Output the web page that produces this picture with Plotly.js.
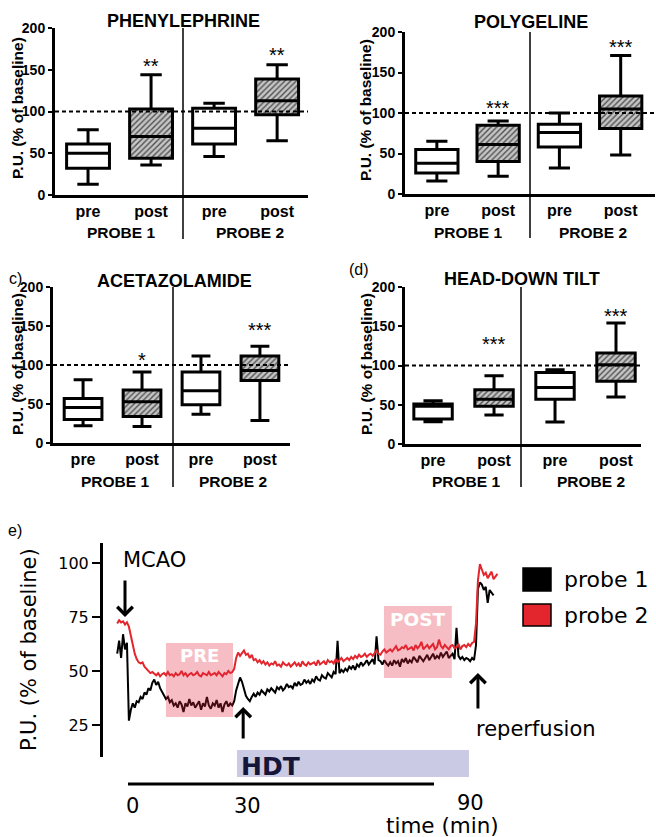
<!DOCTYPE html>
<html><head><meta charset="utf-8">
<script src="https://cdn.plot.ly/plotly-3.0.1.min.js"></script>
<style>html,body{margin:0;padding:0;background:#fff}#chart{width:656px;height:837px}</style>
</head><body><div id="chart"></div>
<script>
// ================= DATA =================
// box panels a-d : order per panel = [pre PROBE 1, post PROBE 1, pre PROBE 2, post PROBE 2]
const groupLabels = ['pre', 'post', 'pre', 'post'];
const probeLabels = ['PROBE 1', 'PROBE 2'];
const panelTitles = ['PHENYLEPHRINE', 'POLYGELINE', 'ACETAZOLAMIDE', 'HEAD-DOWN TILT'];
const panelTags = ['', '', 'c)', '(d)'];
const yTitleBox = 'P.U. (% of baseline)';

const phenLow  = [13, 36, 46, 65];
const phenQ1   = [32, 44, 61, 96];
const phenMed  = [50, 70, 80, 113];
const phenQ3   = [61, 103, 104, 139];
const phenHigh = [78, 144, 110, 156];
const phenStars = ['', '**', '', '**'];

const polyLow  = [16, 22, 32, 48];
const polyQ1   = [26, 40, 58, 81];
const polyMed  = [38, 61, 76, 105];
const polyQ3   = [55, 85, 86, 121];
const polyHigh = [65, 90, 100, 171];
const polyStars = ['', '***', '', '***'];

const acetLow  = [22, 21, 37, 29];
const acetQ1   = [30, 34, 49, 80];
const acetMed  = [45.5, 53, 67, 93];
const acetQ3   = [57, 68, 91, 111.5];
const acetHigh = [81, 91, 111.5, 124];
const acetStars = ['', '*', '', '***'];

const hdtLow  = [28.5, 37, 28, 60];
const hdtQ1   = [32, 48, 57, 80];
const hdtMed  = [48, 57, 72, 101];
const hdtQ3   = [51, 69, 91, 116];
const hdtHigh = [55, 87, 94.5, 154];
const hdtStars = ['', '***', '', '***'];

// panel e : laser-Doppler traces, sampled every 0.5 min starting at -2 min
const traceStart = -2.0;
const traceStep = 0.5;
const seriesNames = ['probe 1', 'probe 2'];
const probe1Values = [
  58, 64, 56, 67, 60, 63, 27, 32, 35, 33,
  36, 35.5, 38, 37, 40, 39, 42, 41, 44.5, 46,
  43.5, 45, 42, 40.5, 39, 37, 38, 35.5, 36.5, 34,
  35, 33, 36, 34.5, 31, 35, 33.5, 37, 34, 35.5,
  33, 34.5, 36, 32, 35, 33.5, 38, 34, 32.5, 35,
  34, 36.5, 33, 35, 31, 34.5, 36, 33.5, 35, 34,
  36, 41, 44, 47, 45, 42, 38.5, 37, 36, 38,
  39.5, 38, 40, 39, 41, 40, 39, 41.5, 40.5, 42,
  41, 40, 42.5, 41.5, 43, 41, 42, 44, 42.5, 43,
  42, 44.5, 43, 45, 43.5, 44, 46, 44.5, 45.5, 44,
  46, 45, 47.5, 46, 45.5, 48, 47, 46.5, 49, 48,
  47, 49.5, 48.5, 64, 49, 50.5, 49.5, 51, 50, 52,
  51, 52.5, 50.5, 53, 52, 54, 52.5, 53.5, 55, 53,
  54, 55.5, 53, 66, 55, 54.5, 53, 55, 53.5, 52.5,
  54, 52.5, 55, 53.5, 54.5, 52, 55.5, 54, 56, 53.5,
  55, 54, 56.5, 55, 54, 57, 55.5, 54.5, 56, 57.5,
  55, 56.5, 58, 55.5, 57, 56, 58.5, 56.5, 57.5, 59,
  56, 57, 58, 55.5, 70, 57, 55.5, 56.5, 55, 56,
  55.5, 54.5, 56, 55, 62, 88, 91, 90, 87.5, 89,
  81.5, 87.5, 86, 85
];
const probe2Values = [
  72, 73.5, 72.5, 73, 71.5, 72.5, 70.5, 66, 61, 58,
  55.5, 54, 53.5, 54, 52, 51, 50.5, 49, 49.5, 48.5,
  48, 49, 47.5, 48.5, 49, 48, 49.5, 48, 48.5, 47.5,
  49, 48, 48.5, 50, 48, 49, 47.5, 48.5, 49, 48,
  48.5, 49.5, 48, 47.5, 49, 48.5, 48, 49.5, 48, 48.5,
  49, 48, 49.5, 48.5, 47.5, 49, 48.5, 50, 49, 49.5,
  51, 56, 58.5, 57, 58, 59.5, 57.5, 58, 56, 57.5,
  55, 55.5, 54, 55, 53.5, 54.5, 53, 54, 52.5, 53.5,
  53, 54.5, 52.5, 53, 52, 54, 53, 52.5, 53.5, 52,
  53, 54, 52.5, 53.5, 52, 54.5, 53, 52.5, 54, 53,
  53.5, 54, 52.5, 55, 53, 54, 54.5, 53, 55, 54,
  54.5, 53.5, 55.5, 54, 55, 56, 54.5, 55.5, 56, 55,
  56.5, 55.5, 57, 56, 57.5, 56.5, 57, 58, 56.5, 57.5,
  58, 57, 58.5, 59.5, 58, 57.5, 59, 60, 58.5, 59.5,
  60, 59, 60.5, 61.5, 59.5, 60, 61, 60.5, 62, 60,
  60.5, 61, 59.5, 62, 60.5, 61.5, 63.5, 60, 61, 62,
  60.5, 61.5, 62.5, 60, 61, 64.5, 61.5, 60.5, 62, 61,
  60, 61.5, 62, 60.5, 61, 62.5, 60, 61.5, 62, 61,
  62.5, 61.5, 63, 63.5, 72, 92, 99.5, 97, 94.5, 95.5,
  93, 94.5, 96, 92.5, 94, 95
];
// event times (min)
const preWindow = [10.5, 27.7];
const postWindow = [66.4, 83.8];
const hdtWindow = [28.7, 88.2];
const mcaoTime = 0;
const hdtTime = 30.3;
const reperfTime = 90.5;
const timeTicks = ['0', '30', '90'];
const timeTickPos = [2, 31.5, 88.5];
const eYTicks = [25, 50, 75, 100];

// ================= LAYOUT HELPERS =================
const W = 656, H = 837;
const px = v => v / W, py = v => 1 - v / H;
const ARIAL = 'Liberation Sans, Arial, sans-serif';
const DEJA = 'DejaVu Sans, sans-serif';

const panels = [
  {low: phenLow, q1: phenQ1, med: phenMed, q3: phenQ3, high: phenHigh, stars: phenStars,
   starY: [0, 154.5, 0, 168], xdom: [55, 308], ydom: [28, 195], range: [0.476, 4.49], bw: 0.68,
   title: [183, 21], ytitle: [17, 108], probe: [[121, 233], [250, 233]], divider: [183, 28, 239], tag: null},
  {low: polyLow, q1: polyQ1, med: polyMed, q3: polyQ3, high: polyHigh, stars: polyStars,
   starY: [0, 106, 0, 181], xdom: [405, 655], ydom: [32, 194], range: [0.48, 4.56], bw: 0.69,
   title: [531, 22.5], ytitle: [366, 110], probe: [[467.5, 232], [593, 232]], divider: [530, 32, 238], tag: null},
  {low: acetLow, q1: acetQ1, med: acetMed, q3: acetQ3, high: acetHigh, stars: acetStars,
   starY: [0, 106, 0, 145], xdom: [53, 290], ydom: [287, 443], range: [0.49, 4.51], bw: 0.64,
   title: [174, 281], ytitle: [17, 364], probe: [[115, 481], [233, 481]], divider: [173, 287, 487], tag: [15, 278]},
  {low: hdtLow, q1: hdtQ1, med: hdtMed, q3: hdtQ3, high: hdtHigh, stars: hdtStars,
   starY: [0, 127, 0, 163], xdom: [405, 641], ydom: [287, 444], range: [0.54, 4.41], bw: 0.63,
   title: [522, 279], ytitle: [366, 364], probe: [[466, 481], [591, 481]], divider: [521, 287, 487], tag: [359, 269]}
];

const data = [];
const layout = {
  width: W, height: H, margin: {l: 0, r: 0, t: 0, b: 0},
  paper_bgcolor: '#fff', plot_bgcolor: 'rgba(0,0,0,0)',
  showlegend: false, hovermode: false, boxmode: 'overlay', barmode: 'overlay',
  annotations: [], shapes: []
};
const A = layout.annotations, S = layout.shapes;
const positions = [1, 2, 3, 4];

panels.forEach((p, k) => {
  const s = k === 0 ? '' : String(k + 1);
  const xa = 'x' + s, ya = 'y' + s;
  const post = [1, 3], pre = [0, 2];
  // hatched fill for post boxes
  data.push({
    type: 'bar', xaxis: xa, yaxis: ya,
    x: post.map(i => positions[i]),
    base: post.map(i => p.q1[i]),
    y: post.map(i => p.q3[i] - p.q1[i]),
    width: p.bw,
    marker: {color: '#bfbfbf', line: {width: 0},
      pattern: {shape: '/', fgcolor: '#505050', bgcolor: '#c6c6c6', size: 4, solidity: 0.35}}
  });
  [[pre, '#ffffff'], [post, 'rgba(0,0,0,0)']].forEach(([idx, fill]) => {
    data.push({
      type: 'box', xaxis: xa, yaxis: ya,
      x: idx.map(i => positions[i]),
      q1: idx.map(i => p.q1[i]), median: idx.map(i => p.med[i]), q3: idx.map(i => p.q3[i]),
      lowerfence: idx.map(i => p.low[i]), upperfence: idx.map(i => p.high[i]),
      boxpoints: false, width: p.bw, whiskerwidth: 0.5,
      fillcolor: fill, line: {color: '#000', width: 3}
    });
  });
  layout['xaxis' + s] = {
    domain: [px(p.xdom[0]), px(p.xdom[1])], range: p.range, anchor: ya,
    tickvals: positions, ticktext: groupLabels, ticks: '',
    showline: true, linewidth: 3, linecolor: '#000', showgrid: false, zeroline: false,
    tickfont: {family: ARIAL, size: 16, weight: 'bold', color: '#000'}, fixedrange: true
  };
  layout['yaxis' + s] = {
    domain: [py(p.ydom[1]), py(p.ydom[0])], range: [0, 200], anchor: xa,
    tickvals: [0, 50, 100, 150, 200], ticks: 'outside', ticklen: 4, tickwidth: 2, tickcolor: '#000',
    showline: true, linewidth: 3, linecolor: '#000', showgrid: false, zeroline: false,
    tickfont: {family: ARIAL, size: 14, weight: 'bold', color: '#000'}, fixedrange: true
  };
  // baseline 100 %
  S.push({type: 'line', xref: xa + ' domain', yref: ya, x0: 0, x1: 1, y0: 100, y1: 100,
    line: {color: '#000', width: 2, dash: '4px,3px'}});
  // divider between probes
  S.push({type: 'line', xref: 'paper', yref: 'paper', x0: px(p.divider[0]), x1: px(p.divider[0]),
    y0: py(p.divider[1]), y1: py(p.divider[2]), line: {color: '#000', width: 1.5}});
  A.push({xref: 'paper', yref: 'paper', x: px(p.title[0]), y: py(p.title[1]), text: panelTitles[k],
    showarrow: false, xanchor: 'center', yanchor: 'middle',
    font: {family: ARIAL, size: 18, weight: 'bold', color: '#000'}});
  A.push({xref: 'paper', yref: 'paper', x: px(p.ytitle[0]), y: py(p.ytitle[1]), text: yTitleBox,
    textangle: -90, showarrow: false, xanchor: 'center', yanchor: 'middle',
    font: {family: ARIAL, size: 15.5, weight: 'bold', color: '#000'}});
  probeLabels.forEach((lab, j) => A.push({xref: 'paper', yref: 'paper', x: px(p.probe[j][0]), y: py(p.probe[j][1]),
    text: lab, showarrow: false, xanchor: 'center', yanchor: 'middle',
    font: {family: ARIAL, size: 15.5, weight: 'bold', color: '#000'}}));
  if (p.tag) A.push({xref: 'paper', yref: 'paper', x: px(p.tag[0]), y: py(p.tag[1]), text: panelTags[k],
    showarrow: false, xanchor: 'center', yanchor: 'middle', font: {family: ARIAL, size: 16, color: '#000'}});
  p.stars.forEach((st, i) => {
    if (!st) return;
    A.push({xref: xa, yref: ya, x: positions[i], y: p.starY[i], text: st, showarrow: false,
      xanchor: 'center', yanchor: 'middle', font: {family: ARIAL, size: 20, color: '#000'}});
  });
});

// ================= PANEL e =================
const X0 = 125, PXPERMIN = 3.9;  // 0 min at 125 px
const tOf = x => (x - X0) / PXPERMIN;
const V0 = 100, Y100 = 563, PXPERUNIT = 2.159;
const vOf = y => V0 - (y - Y100) / PXPERUNIT;

data.push({type: 'scatter', mode: 'lines', name: seriesNames[0], xaxis: 'x5', yaxis: 'y5',
  x0: traceStart, dx: traceStep, y: probe1Values, line: {color: '#000', width: 2}});
data.push({type: 'scatter', mode: 'lines', name: seriesNames[1], xaxis: 'x5', yaxis: 'y5',
  x0: traceStart, dx: traceStep, y: probe2Values, line: {color: '#e3262d', width: 2}});

layout.xaxis5 = {domain: [px(103), 1], range: [tOf(103), tOf(656)], anchor: 'y5', visible: false, fixedrange: true};
layout.yaxis5 = {
  domain: [py(757), py(543)], range: [vOf(757), vOf(543)], anchor: 'x5',
  tickvals: eYTicks, ticks: 'outside', ticklen: 8, tickwidth: 1.5, tickcolor: '#000',
  showline: true, linewidth: 3, linecolor: '#000', showgrid: false, zeroline: false,
  tickfont: {family: DEJA, size: 16, color: '#000'}, fixedrange: true
};

// PRE / POST windows (drawn over the traces)
const winFill = 'rgba(225,40,60,0.3)';
S.push({type: 'rect', xref: 'x5', yref: 'y5', x0: preWindow[0], x1: preWindow[1], y0: vOf(717), y1: vOf(643),
  fillcolor: winFill, line: {width: 0}, layer: 'above'});
S.push({type: 'rect', xref: 'x5', yref: 'y5', x0: postWindow[0], x1: postWindow[1], y0: vOf(678), y1: vOf(606),
  fillcolor: winFill, line: {width: 0}, layer: 'above'});
A.push({xref: 'x5', yref: 'paper', x: (preWindow[0] + preWindow[1]) / 2, y: py(655), text: 'PRE', showarrow: false,
  xanchor: 'center', yanchor: 'middle', font: {family: DEJA, size: 18, weight: 'bold', color: '#fff'}});
A.push({xref: 'x5', yref: 'paper', x: (postWindow[0] + postWindow[1]) / 2, y: py(619), text: 'POST', showarrow: false,
  xanchor: 'center', yanchor: 'middle', font: {family: DEJA, size: 18.5, weight: 'bold', color: '#fff'}});
// HDT bar
S.push({type: 'rect', xref: 'x5', yref: 'paper', x0: hdtWindow[0], x1: hdtWindow[1], y0: py(777), y1: py(750),
  fillcolor: '#cbcae4', line: {width: 0}, layer: 'below'});
A.push({xref: 'paper', yref: 'paper', x: px(239), y: py(766), xanchor: 'left', yanchor: 'middle', text: 'HDT',
  showarrow: false, font: {family: DEJA, size: 25, weight: 'bold', color: '#15153a'}});
// time bar
S.push({type: 'line', xref: 'x5', yref: 'paper', x0: tOf(128), x1: tOf(434), y0: py(784), y1: py(784),
  line: {color: '#000', width: 3}});
timeTicks.forEach((lab, i) => A.push({xref: 'x5', yref: 'paper', x: timeTickPos[i], y: py(i === 2 ? 803 : 806), text: lab,
  showarrow: false, xanchor: 'center', yanchor: 'middle', font: {family: DEJA, size: 21, color: '#000'}}));
A.push({xref: 'paper', yref: 'paper', x: px(442), y: py(825), text: 'time (min)', showarrow: false,
  xanchor: 'center', yanchor: 'middle', font: {family: DEJA, size: 21.5, color: '#000'}});
// arrows
const arrow = (t, tipY, ay) => ({xref: 'x5', yref: 'paper', x: t, y: py(tipY), ax: 0, ay: ay, axref: 'pixel', ayref: 'pixel',
  text: '', showarrow: true, arrowhead: 4, arrowsize: 1, arrowwidth: 3, arrowcolor: '#000'});
A.push(arrow(mcaoTime, 617, -38));
A.push(arrow(hdtTime, 707, 33));
A.push(arrow(reperfTime, 673, 37));
A.push({xref: 'paper', yref: 'paper', x: px(121), y: py(560), xanchor: 'left', yanchor: 'middle', text: 'MCAO',
  showarrow: false, font: {family: DEJA, size: 21, color: '#000'}});
A.push({xref: 'paper', yref: 'paper', x: px(474), y: py(729), xanchor: 'left', yanchor: 'middle', text: 'reperfusion',
  showarrow: false, font: {family: DEJA, size: 21, color: '#000'}});
// y title and tag
A.push({xref: 'paper', yref: 'paper', x: px(29), y: py(650), text: 'P.U. (% of baseline)', textangle: -90,
  showarrow: false, xanchor: 'center', yanchor: 'middle', font: {family: DEJA, size: 21, color: '#000'}});
A.push({xref: 'paper', yref: 'paper', x: px(15), y: py(530), text: 'e)', showarrow: false,
  xanchor: 'center', yanchor: 'middle', font: {family: ARIAL, size: 16, color: '#000'}});
// legend
const legColors = ['#000000', '#e3262d'];
const legRows = [[568, 591], [604, 626]];
seriesNames.forEach((nm, i) => {
  S.push({type: 'rect', xref: 'paper', yref: 'paper', x0: px(523), x1: px(551), y0: py(legRows[i][1]), y1: py(legRows[i][0]),
    fillcolor: legColors[i], line: {color: '#000', width: 1.5}});
  A.push({xref: 'paper', yref: 'paper', x: px(562), y: py((legRows[i][0] + legRows[i][1]) / 2), xanchor: 'left', yanchor: 'middle',
    text: nm, showarrow: false, font: {family: DEJA, size: 22, color: '#000'}});
});

Plotly.newPlot('chart', data, layout, {staticPlot: true, displayModeBar: false});
</script>
</body></html>
